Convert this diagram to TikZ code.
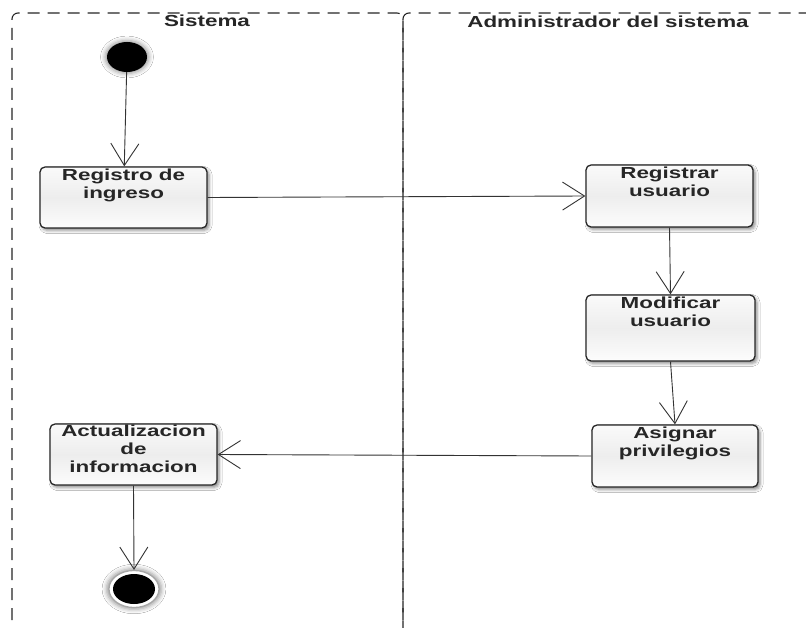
\documentclass[tikz,border=0pt]{standalone}
\usepackage{fontspec}
\usetikzlibrary{arrows.meta,shadows.blur,shapes.geometric}
\newfontfamily\labfont{Liberation Sans Bold}[FakeStretch=1.4]

\tikzset{
  lane/.style={draw=black!85, line width=1.1pt, dash pattern=on 12pt off 8pt, rounded corners=6pt},
  lanetitle/.style={font=\labfont\fontsize{16}{18}\selectfont, text=black!85, inner sep=0pt},
  actbox/.style={draw=black!85, line width=1.3pt, rounded corners=5pt,
    top color=gray!4, bottom color=gray!2, middle color=gray!14,
    blur shadow={shadow xshift=2pt, shadow yshift=-2.5pt, shadow blur radius=3pt, shadow opacity=45},
    inner sep=0pt},
  acttext/.style={font=\labfont\fontsize{16}{18}\selectfont, text=black!85, align=center, inner sep=0pt, anchor=north},
  flow/.style={draw=black!80, line width=0.9pt, -{Straight Barb[length=22pt, width=28pt, line width=0.9pt]}},
}

\begin{document}
\begin{tikzpicture}[x=1pt, y=-1pt]
  \useasboundingbox (0,0) rectangle (806,628);
  \fill[white] (0,0) rectangle (806,628);

  % swimlanes
  \draw[lane] (12,640) -- (12,13) -- (403,13) -- (403,640);
  \draw[lane] (403,640) -- (403,13) -- (820,13);
  \node[lanetitle, anchor=north] (t1) at (207,15) {Sistema};
  \node[lanetitle, anchor=north] (t2) at (608,16) {Administrador del sistema};

  % initial and final states
  \node[ellipse, fill=black, minimum width=40pt, minimum height=30pt, inner sep=0pt,
        blur shadow={shadow xshift=0pt, shadow yshift=0pt, shadow blur radius=4pt, shadow scale=1.1}] (start) at (127,57) {};
  \node[ellipse, draw=gray!70, line width=1.2pt, fill=white, minimum width=50pt, minimum height=37pt, inner sep=0pt,
        blur shadow={shadow xshift=0pt, shadow yshift=0pt, shadow blur radius=4pt, shadow scale=1.1}] (end) at (134,589) {};
  \node[ellipse, fill=black, minimum width=42pt, minimum height=30pt, inner sep=0pt] (endin) at (134,589) {};

  % activities
  \node[actbox, minimum width=167pt, minimum height=61pt] (reg) at (123.5,197.5) {};
  \node[acttext] (regt) at ([yshift=-2pt]reg.north) {Registro de\\ingreso};

  \node[actbox, minimum width=167pt, minimum height=62pt] (regu) at (669.5,196) {};
  \node[acttext] (regut) at ([yshift=-2pt]regu.north) {Registrar\\usuario};

  \node[actbox, minimum width=169pt, minimum height=66pt] (mod) at (670.5,328) {};
  \node[acttext] (modt) at ([yshift=-2pt]mod.north) {Modificar\\usuario};

  \node[actbox, minimum width=166pt, minimum height=62pt] (asig) at (675,456) {};
  \node[acttext] (asigt) at ([yshift=-2pt]asig.north) {Asignar\\privilegios};

  \node[actbox, minimum width=167pt, minimum height=61pt] (act) at (133.5,454.5) {};
  \node[acttext] (actt) at ([yshift=-1pt]act.north) {Actualizacion\\de\\informacion};

  % control flows
  \draw[flow] (start) -- (reg);
  \draw[flow] (reg.east) -- (regu.west);
  \draw[flow] (regu.south) -- (mod.north);
  \draw[flow] (mod.south) -- (asig.north);
  \draw[flow] (asig.west) -- (act.east);
  \draw[flow] (act.south) -- (end.north);
\end{tikzpicture}
\end{document}
